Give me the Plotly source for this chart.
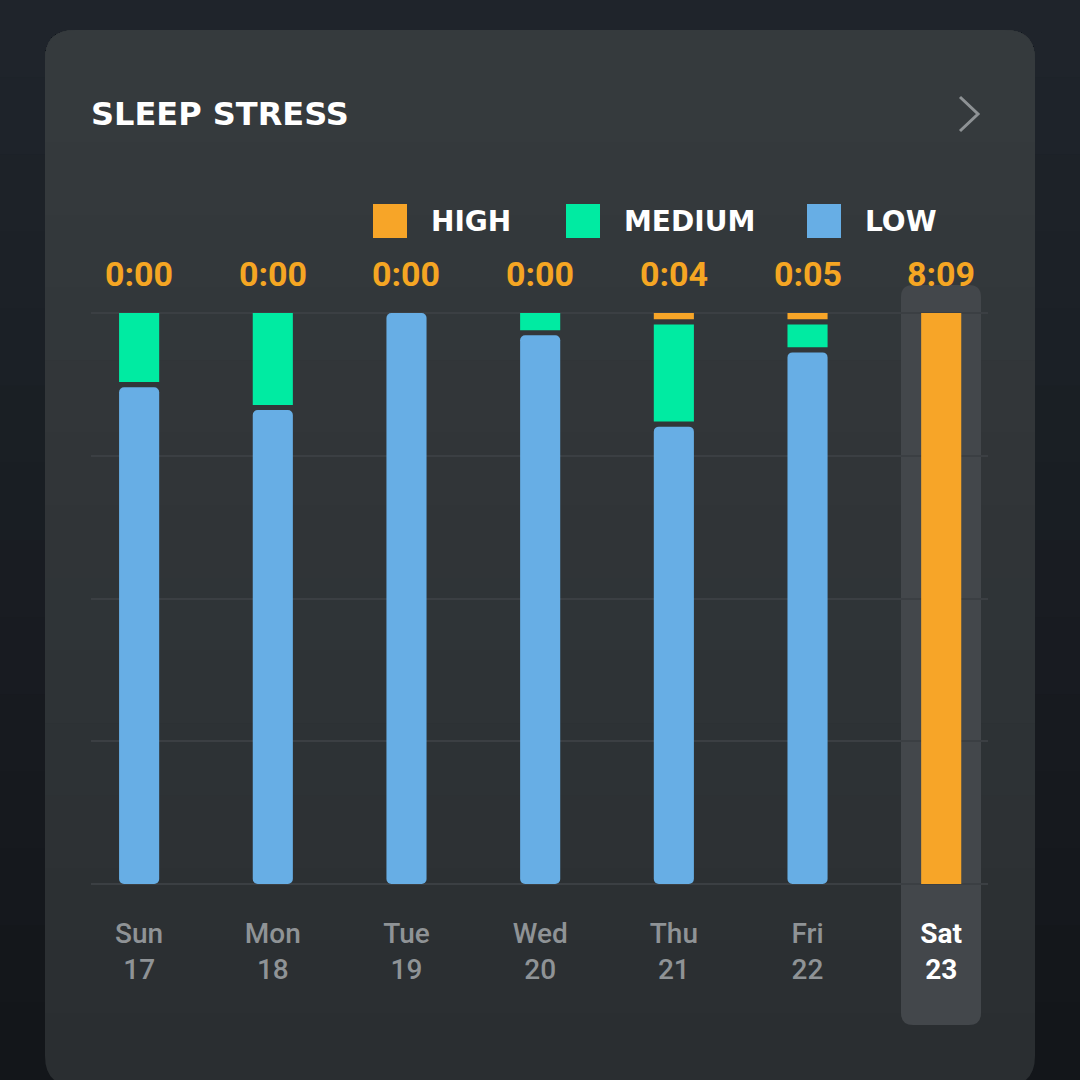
import plotly.graph_objects as go

# data (share of the night, percent, bottom to top: low, medium, high)
days = ["Sun", "Mon", "Tue", "Wed", "Thu", "Fri", "Sat"]
dates = [17, 18, 19, 20, 21, 22, 23]
low_pct = [87.9, 83.9, 100.0, 97.0, 81.0, 94.0, 0.0]
medium_pct = [12.1, 16.1, 0.0, 3.0, 17.9, 4.9, 0.0]
high_pct = [0.0, 0.0, 0.0, 0.0, 1.1, 1.1, 100.0]
high_time = ["0:00", "0:00", "0:00", "0:00", "0:04", "0:05", "8:09"]
selected = "Sat"

levels = ["HIGH", "MEDIUM", "LOW"]
colors = {"HIGH": "#F7A528", "MEDIUM": "#00EBA2", "LOW": "#67AEE5"}

W = H = 1080
GAP = 0.9  # gap between stacked segments, in percent
PX_PER_PCT = 5.71


def px(x):
    return x / W


def py(y):
    return 1 - y / H


def mix(c0, c1, t):
    a = [int(c0[i:i + 2], 16) for i in (1, 3, 5)]
    b = [int(c1[i:i + 2], 16) for i in (1, 3, 5)]
    return "#" + "".join(f"{round(u + (v - u) * t):02X}" for u, v in zip(a, b))


def rounded_rect(x0, y0, x1, y1, r, bottom=True):
    # path in paper coords from a pixel box
    pts = [f"M {px(x0 + r)},{py(y0)}", f"L {px(x1 - r)},{py(y0)}", f"Q {px(x1)},{py(y0)} {px(x1)},{py(y0 + r)}"]
    if bottom:
        pts += [f"L {px(x1)},{py(y1 - r)}", f"Q {px(x1)},{py(y1)} {px(x1 - r)},{py(y1)}",
                f"L {px(x0 + r)},{py(y1)}", f"Q {px(x0)},{py(y1)} {px(x0)},{py(y1 - r)}"]
    else:
        pts += [f"L {px(x1)},{py(y1)}", f"L {px(x0)},{py(y1)}"]
    pts += [f"L {px(x0)},{py(y0 + r)}", f"Q {px(x0)},{py(y0)} {px(x0 + r)},{py(y0)}", "Z"]
    return " ".join(pts)


# stack segments with a small gap under any segment that has something above it
segments = {"LOW": ([], []), "MEDIUM": ([], []), "HIGH": ([], [])}
for i in range(len(days)):
    parts = [("LOW", low_pct[i]), ("MEDIUM", medium_pct[i]), ("HIGH", high_pct[i])]
    start = 0.0
    for k, (name, val) in enumerate(parts):
        above = any(v > 0 for _, v in parts[k + 1:])
        length = max(val - (GAP if above and val > 0 else 0), 0)
        segments[name][0].append(length)
        segments[name][1].append(start)
        start += val

fig = go.Figure()
for name in ["LOW", "MEDIUM", "HIGH"]:
    lengths, bases = segments[name]
    fig.add_trace(go.Bar(
        x=days, y=lengths, base=bases, width=0.3, name=name,
        marker={"color": colors[name], "line": {"width": 0}, "cornerradius": 5 if name == "LOW" else 0},
        hoverinfo="skip",
    ))

ticktext = []
for d, n in zip(days, dates):
    if d == selected:
        ticktext.append(f"<span style='color:#FFFFFF'><b>{d}</b></span><br><span style='color:#FFFFFF'><b>{n}</b></span>")
    else:
        ticktext.append(f"{d}<br>{n}")

shapes = []
# page background, dark blue-grey fading to near black
N = 14
for k in range(N):
    y1 = H - k * H / N
    shapes.append({"type": "rect", "x0": 0, "x1": 1, "y0": py(y1), "y1": 1, "xref": "paper", "yref": "paper",
                   "fillcolor": mix("#13161A", "#1F242B", k / (N - 1)), "line": {"width": 0}, "layer": "below"})
# card, lighter at the top
card_top, card_bot = 30, 1086
for k in range(N):
    y1 = card_bot - k * (card_bot - card_top - 40) / N
    shapes.append({"type": "path", "path": rounded_rect(45, card_top, 1035, y1, 30, bottom=(k == 0)),
                   "xref": "paper", "yref": "paper", "fillcolor": mix("#2A2E31", "#353A3D", k / (N - 1)),
                   "line": {"width": 0}, "layer": "below"})
shapes += [
    {"type": "path", "path": rounded_rect(901, 285, 981, 1025, 12), "xref": "paper", "yref": "paper",
     "fillcolor": "#43474B", "line": {"width": 0}, "layer": "below"},
    {"type": "path", "path": f"M {px(960)},{py(97)} L {px(978)},{py(114)} L {px(960)},{py(131)}",
     "xref": "paper", "yref": "paper", "line": {"color": "#8E9295", "width": 3}},
]

annotations = [
    {"text": "<b>SLEEP STRESS</b>", "x": px(89), "y": py(114), "xref": "paper", "yref": "paper",
     "xanchor": "left", "yanchor": "middle", "showarrow": False,
     "font": {"family": "DejaVu Sans", "size": 32, "color": "#FFFFFF"}},
]

legend_x = {"HIGH": 373, "MEDIUM": 566, "LOW": 807}
for name in levels:
    x0 = legend_x[name]
    shapes.append({"type": "rect", "x0": px(x0), "x1": px(x0 + 34), "y0": py(238), "y1": py(204),
                   "xref": "paper", "yref": "paper", "fillcolor": colors[name], "line": {"width": 0}})
    annotations.append({"text": f"<b>{name}</b>", "x": px(x0 + 56), "y": py(222), "xref": "paper", "yref": "paper",
                        "xanchor": "left", "yanchor": "middle", "showarrow": False,
                        "font": {"family": "DejaVu Sans", "size": 28, "color": "#FFFFFF"}})

for d, t in zip(days, high_time):
    annotations.append({"text": f"<b>{t}</b>", "x": d, "y": py(274), "xref": "x", "yref": "paper",
                        "xanchor": "center", "yanchor": "middle", "showarrow": False,
                        "font": {"family": "Roboto", "size": 34, "color": "#F5A623"}})

pad = 0.5 * PX_PER_PCT
fig.update_layout(
    width=W, height=H,
    margin={"l": 0, "r": 0, "t": 0, "b": 0},
    paper_bgcolor="#1A1E23",
    plot_bgcolor="rgba(0,0,0,0)",
    barmode="overlay",
    showlegend=False,
    shapes=shapes,
    annotations=annotations,
    xaxis={
        "domain": [px(91), px(988)], "range": [-0.36, 6.35], "type": "category",
        "tickvals": days, "ticktext": ticktext, "showgrid": False, "zeroline": False,
        "showline": False, "ticks": "", "ticklabelstandoff": 27, "fixedrange": True,
        "tickfont": {"family": "Roboto", "size": 28, "color": "#8F9396", "weight": 500},
    },
    yaxis={
        "domain": [py(884 + pad), py(313 - pad)], "range": [-0.5, 100.5], "tickvals": [0, 25, 50, 75, 100],
        "showticklabels": False, "showgrid": True, "gridcolor": "#3B3F43", "gridwidth": 2,
        "zeroline": False, "showline": False, "fixedrange": True,
    },
)

fig.write_html(
    "out.html",
    config={"displayModeBar": False},
    post_script="document.body.style.margin='0';document.body.style.background='#1A1E23';",
)
